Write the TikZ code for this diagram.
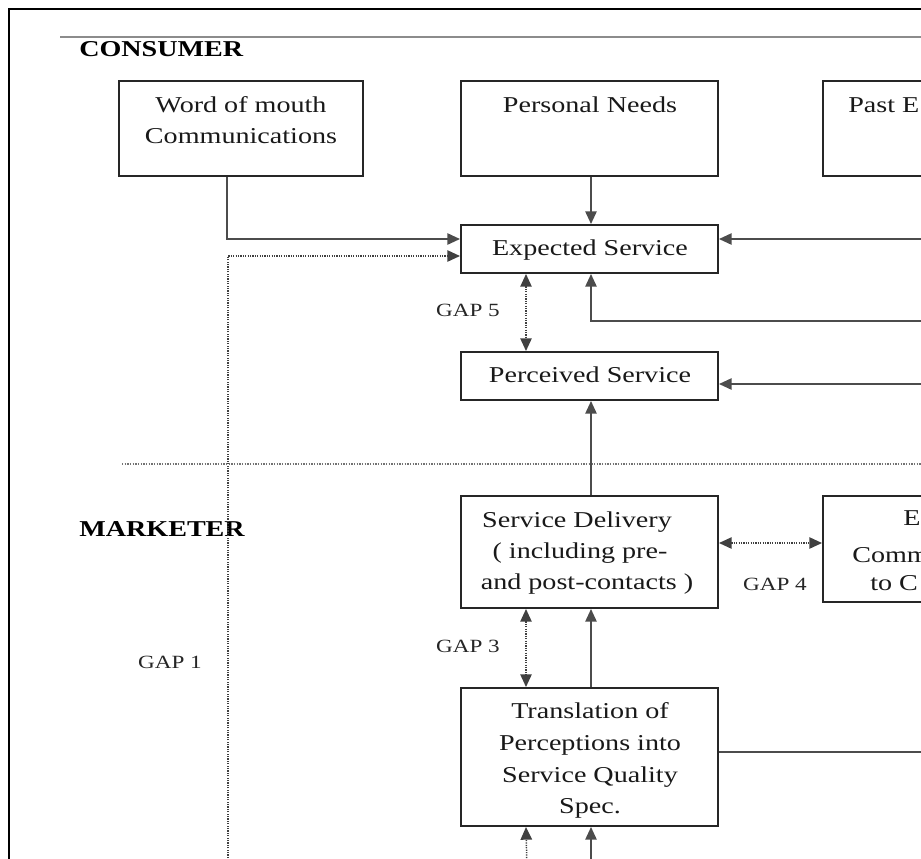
\documentclass[tikz,border=0pt]{standalone}
\usepackage{fontspec}
\setmainfont[FakeStretch=1.24]{Liberation Serif}
\usetikzlibrary{arrows.meta,calc}
\begin{document}
\begin{tikzpicture}[x=0.75pt,y=-0.75pt,
  box/.style 2 args={draw=black!85, line width=1.5pt, inner sep=0pt,
    minimum width=#1*0.75pt, minimum height=#2*0.75pt},
  txt/.style={inner sep=0pt, anchor=base, text=black!90, font=\fontsize{17pt}{24pt}\selectfont},
  txtw/.style={txt, anchor=base west},
  head/.style={inner sep=0pt, anchor=base west, font=\fontsize{17pt}{24pt}\selectfont\bfseries},
  gaplbl/.style={inner sep=0pt, anchor=base, font=\fontsize{14pt}{17pt}\selectfont, text=black!85},
  link/.style={line width=1.2pt, draw=black!70},
  gapline/.style={line width=1.1pt, draw=black!75, dash pattern=on 0.9pt off 0.9pt},
  tipped/.style={-{Triangle[length=9.5pt,width=8.5pt]}},
  bitipped/.style={{Triangle[length=9.5pt,width=8.5pt]}-{Triangle[length=9.5pt,width=8.5pt]}}]
\useasboundingbox (0,0) rectangle (921,858);
\clip (0,0) rectangle (921,858);
\fill[white] (0,0) rectangle (921,858);

% outer frame and the rule under the heading
\draw[line width=2pt, black] (9,870) -- (9,9) -- (930,9);
\draw[line width=1.1pt, black!45] (60,37) -- (930,37);

% consumer / marketer divider
\draw[line width=0.9pt, black!55, dash pattern=on 1pt off 1pt] (122,464) -- (930,464);

% section headings
\node[head] (hcons) at (79,56) {CONSUMER};
\node[head] (hmark) at (79,536) {MARKETER};

% boxes
\node[box={244}{95}] (wom) at (241,128.5) {};
\node[box={257}{95}] (pn) at (589.5,128.5) {};
\node[box={257}{95}] (pe) at (951.5,128.5) {};
\node[box={257}{48}] (es) at (589.5,249) {};
\node[box={257}{48}] (ps) at (589.5,376) {};
\node[box={257}{112}] (sd) at (589.5,552) {};
\node[box={257}{106}] (ec) at (951.5,549) {};
\node[box={257}{138}] (tr) at (589.5,757) {};

% box texts
\node[txt] (wom1) at (241,112) {Word of mouth};
\node[txt] (wom2) at (241,143) {Communications};
\node[txt] (pn1) at (590,112) {Personal Needs};
\node[txtw] (pe1) at (848,112) {Past E};
\node[txt] (es1) at (590,255) {Expected Service};
\node[txt] (ps1) at (590,382) {Perceived Service};
\node[txt] (sd1) at (577,527) {Service Delivery};
\node[txt] (sd2) at (580,558) {( including pre-};
\node[txt] (sd3) at (587,589) {and post-contacts )};
\node[txtw] (ec1) at (903,525) {E};
\node[txtw] (ec2) at (852,562) {Comm};
\node[txtw] (ec3) at (870,590) {to C};
\node[txt] (tr1) at (590,718) {Translation of};
\node[txt] (tr2) at (590,750) {Perceptions into};
\node[txt] (tr3) at (590,782) {Service Quality};
\node[txt] (tr4) at (590,813) {Spec.};

% gap labels
\node[gaplbl] (g5) at (468,316) {GAP 5};
\node[gaplbl] (g3) at (468,652) {GAP 3};
\node[gaplbl] (g4) at (775,590) {GAP 4};
\node[gaplbl] (g1) at (170,668) {GAP 1};

% free ends beyond the edges
\coordinate (rin1) at (930,239);
\coordinate (rin2) at (930,321);
\coordinate (rin3) at (930,384);
\coordinate (rout) at (930,752);
\coordinate (bdot) at (527,870);
\coordinate (bsol) at (591,870);
\coordinate (gone) at (228,870);

% solid connectors
\draw[link,tipped] ($(pn.south)+(1.5,0)$) -- ($(es.north)+(1.5,0)$);
\draw[link,tipped] ($(wom.south west)+(109,0)$) |- ($(es.west)+(0,-10)$);
\draw[link,tipped] (rin1) -- ($(es.east)+(0,-10)$);
\draw[link,tipped] (rin2) -| ($(es.south)+(1.5,0)$);
\draw[link,tipped] (rin3) -- ($(ps.east)+(0,8)$);
\draw[link,tipped] ($(sd.north)+(1.5,0)$) -- ($(ps.south)+(1.5,0)$);
\draw[link,tipped] ($(tr.north)+(1.5,0)$) -- ($(sd.south)+(1.5,0)$);
\draw[link,tipped] (bsol) -- ($(tr.south)+(1.5,0)$);
\draw[link] ($(tr.east)+(0,-5)$) -- (rout);

% gap connectors
\draw[gapline,tipped] (gone) |- ($(es.west)+(0,7)$);
\draw[gapline,bitipped] ($(es.south west)+(66,0)$) -- ($(ps.north west)+(66,0)$);
\draw[gapline,bitipped] ($(sd.south west)+(66,0)$) -- ($(tr.north west)+(66,0)$);
\draw[gapline,bitipped] ($(sd.east)+(0,-9)$) -- ($(ec.west)+(0,-6)$);
\draw[gapline,tipped] (bdot) -- ($(tr.south west)+(66,0)$);
\end{tikzpicture}
\end{document}
